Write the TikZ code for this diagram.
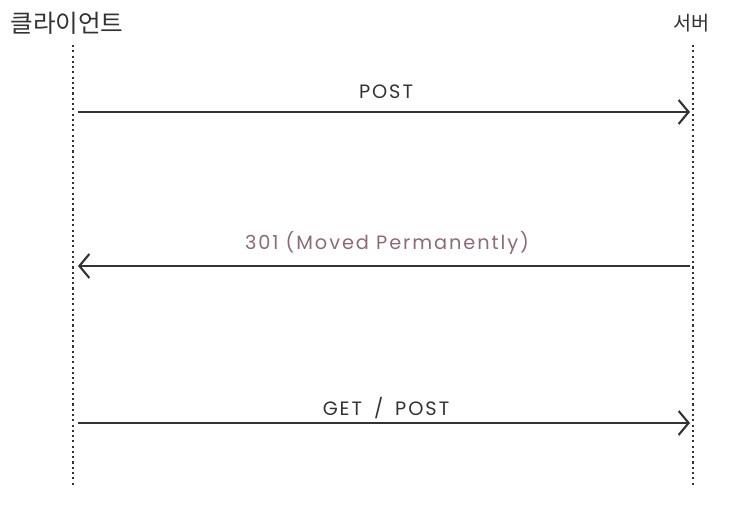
\documentclass[tikz,border=0pt]{standalone}
\usepackage{fontspec}
\setmainfont{Noto Sans CJK KR}
\newfontfamily\hand[LetterSpace=10]{Poppins}
\usepackage{tikz}
\usetikzlibrary{arrows.meta}
\definecolor{ink}{HTML}{333333}
\definecolor{redir}{HTML}{8C6A7C}
\tikzset{
  actor/.style={font=\fontsize{7}{8}\selectfont,text=ink,inner sep=0pt},
  lifeline/.style={draw=ink,line width=0.7pt,dash pattern=on 0.6pt off 0.9pt},
  msg/.style={draw=ink,line width=0.6pt,-{Straight Barb[length=1mm,width=2.4mm]}},
  msglabel/.style={font=\hand\fontsize{5.5}{7}\selectfont,inner sep=0pt}
}
\begin{document}
\begin{tikzpicture}
  \useasboundingbox (0,0) rectangle (7.35,5.05);
  % actors
  \node[actor] (client) at (0.67,4.82) {클라이언트};
  \node[actor,font=\fontsize{5.6}{7}\selectfont] (server) at (6.92,4.82) {서버};
  % lifelines
  \coordinate (ctop) at (0.73,4.60);
  \coordinate (cbot) at (0.73,0.20);
  \coordinate (stop) at (6.93,4.60);
  \coordinate (sbot) at (6.93,0.20);
  \draw[lifeline] (ctop) -- (cbot);
  \draw[lifeline] (stop) -- (sbot);
  % messages, y = arrow height
  \foreach \n/\y in {post/3.93,redirect/2.39,again/0.82}{
    \coordinate (\n-c) at (0.78,\y);
    \coordinate (\n-s) at (6.90,\y);
  }
  \draw[msg] (post-c) -- (post-s);
  \draw[msg] (redirect-s) -- (redirect-c);
  \draw[msg] (again-c) -- (again-s);
  \node[msglabel,text=ink] (postlbl) at (3.86,4.13) {POST};
  \node[msglabel,text=redir] (redirlbl) at (3.87,2.62) {301 (Moved Permanently)};
  \node[msglabel,text=ink] (againlbl) at (3.86,0.97) {GET\hspace{1.2mm}/\hspace{1.2mm}POST};
\end{tikzpicture}
\end{document}
